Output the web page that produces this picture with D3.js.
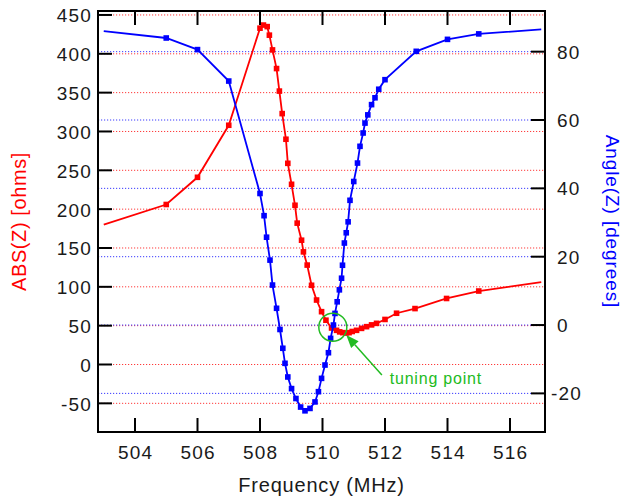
<!DOCTYPE html>
<html><head><meta charset="utf-8">
<script src="https://cdn.jsdelivr.net/npm/d3@7"></script>
<style>
html,body{margin:0;padding:0;background:#fff;}
svg{display:block;font-family:"Liberation Sans",Arial,sans-serif;}
</style></head>
<body>
<svg id="chart" width="626" height="499"></svg>
<script>
// ---- data ----
const freqAbs = [503, 505, 506, 507, 508.0, 508.11, 508.23, 508.3, 508.4, 508.53, 508.62, 508.71, 508.83, 508.89, 509.01, 509.12, 509.19, 509.33, 509.39, 509.51, 509.65, 509.81, 509.97, 510.11, 510.29, 510.45, 510.55, 510.65, 510.75, 510.85, 510.95, 511.09, 511.25, 511.41, 511.57, 511.73, 512.0, 512.37, 512.96, 513.97, 515.0, 517.0];
const absZ = [180, 206, 241, 308, 433, 437, 435, 424, 405, 381, 352, 323, 290, 259, 232, 205, 182, 160, 145, 128, 102, 83, 68, 57, 47, 44, 42, 41, 40.5, 41, 42.5, 44, 46.5, 48.7, 51, 53, 58, 66, 72, 85, 94.6, 106];
const freqAng = [503, 505, 506, 507, 508.0, 508.13, 508.21, 508.32, 508.4, 508.53, 508.64, 508.73, 508.8, 508.89, 509.01, 509.15, 509.3, 509.44, 509.6, 509.76, 509.87, 509.97, 510.08, 510.19, 510.26, 510.35, 510.4, 510.47, 510.54, 510.61, 510.64, 510.7, 510.76, 510.82, 510.88, 511.0, 511.12, 511.2, 511.3, 511.36, 511.45, 511.57, 511.68, 511.8, 512.0, 513.0, 514.0, 515.0, 517.0];
const angleZ = [86, 84, 80.6, 71.4, 38.5, 32, 25.7, 19, 11.7, 4.9, -1.3, -6.8, -11.2, -15.2, -18.6, -21.5, -24, -25.1, -24.4, -22.5, -19.5, -15.6, -11.7, -8.1, -3.9, 0, 3.4, 6.8, 10.3, 13.7, 17.5, 24, 27, 30.2, 36.5, 42, 47.4, 52.3, 56.2, 59.1, 61.5, 64.5, 66.5, 69, 71.8, 80.1, 83.6, 85.2, 86.5];
const xTicks = [504, 506, 508, 510, 512, 514, 516];
const leftTicks = [-50, 0, 50, 100, 150, 200, 250, 300, 350, 400, 450];
const rightTicks = [-20, 0, 20, 40, 60, 80];
const xTitle = "Frequency (MHz)";
const leftTitle = "ABS(Z) [ohms]";
const rightTitle = "Angle(Z) [degrees]";
const annotText = "tuning point";
const annotPoint = {f: 510.33, v: 48};      // circle centre (left axis units)
const annotArrow = {f0: 511.9, v0: -13.5, f1: 510.76, v1: 38};
const annotLabel = {f: 512.15, v: -25};

// ---- layout ----
const L = 98, R = 545, T = 11, B = 432;
const svg = d3.select("#chart");
const x = d3.scaleLinear().domain([502.816, 517.12]).range([L, R]);
const yL = d3.scaleLinear().domain([-86.9, 455.1]).range([B, T]);
const yR = d3.scaleLinear().domain([-31.3, 91.9]).range([B, T]);

const RED = "#ff0000", BLUE = "#0000ff", GREEN = "#22bb22";

// gridlines
svg.append("g").selectAll("line").data(leftTicks).join("line")
  .attr("x1", L).attr("x2", R).attr("y1", d => yL(d)).attr("y2", d => yL(d))
  .attr("stroke", "#ff3a3a").attr("stroke-width", 1).attr("stroke-dasharray", "1.2,1.8");
svg.append("g").selectAll("line").data(rightTicks).join("line")
  .attr("x1", L).attr("x2", R).attr("y1", d => yR(d)).attr("y2", d => yR(d))
  .attr("stroke", "#3a3aff").attr("stroke-width", 1).attr("stroke-dasharray", "1.2,1.8");

// series
const absData = freqAbs.map((f, i) => ({f, v: absZ[i]}));
const angData = freqAng.map((f, i) => ({f, v: angleZ[i]}));
function drawSeries(data, yS, color) {
  const g = svg.append("g");
  g.append("path").datum(data)
    .attr("d", d3.line().x(d => x(d.f)).y(d => yS(d.v)))
    .attr("fill", "none").attr("stroke", color).attr("stroke-width", 1.8);
  g.selectAll("rect").data(data.slice(1, -1)).join("rect")
    .attr("x", d => x(d.f) - 2.8).attr("y", d => yS(d.v) - 2.8)
    .attr("width", 5.6).attr("height", 5.6).attr("fill", color);
}
drawSeries(absData, yL, RED);
drawSeries(angData, yR, BLUE);

// frame
svg.append("rect").attr("x", L).attr("y", T).attr("width", R - L).attr("height", B - T)
  .attr("fill", "none").attr("stroke", "#000").attr("stroke-width", 2);

// axes (inward ticks)
const tickLen = 14;
const fontTick = {size: "19px", ls: "1.2px", fill: "#1a1a1a"};
const gx = svg.append("g");
gx.selectAll("line.b").data(xTicks).join("line").attr("class", "b")
  .attr("x1", d => x(d)).attr("x2", d => x(d)).attr("y1", B).attr("y2", B - tickLen)
  .attr("stroke", "#000").attr("stroke-width", 2);
gx.selectAll("line.t").data(xTicks).join("line").attr("class", "t")
  .attr("x1", d => x(d)).attr("x2", d => x(d)).attr("y1", T).attr("y2", T + tickLen)
  .attr("stroke", "#000").attr("stroke-width", 2);
gx.selectAll("text").data(xTicks).join("text")
  .attr("x", d => x(d) + 0.6).attr("y", 458.5).attr("text-anchor", "middle")
  .attr("font-size", fontTick.size).attr("letter-spacing", fontTick.ls).attr("fill", fontTick.fill)
  .text(d => d);

const gl = svg.append("g");
gl.selectAll("line").data(leftTicks).join("line")
  .attr("x1", L).attr("x2", L + tickLen).attr("y1", d => yL(d)).attr("y2", d => yL(d))
  .attr("stroke", "#000").attr("stroke-width", 2);
gl.selectAll("text").data(leftTicks).join("text")
  .attr("x", 92).attr("y", d => yL(d) + 7.5).attr("text-anchor", "end")
  .attr("font-size", fontTick.size).attr("letter-spacing", fontTick.ls).attr("fill", fontTick.fill)
  .text(d => d);

const gr = svg.append("g");
gr.selectAll("line").data(rightTicks).join("line")
  .attr("x1", R).attr("x2", R - tickLen).attr("y1", d => yR(d)).attr("y2", d => yR(d))
  .attr("stroke", "#000").attr("stroke-width", 2);
gr.selectAll("text").data(rightTicks).join("text")
  .attr("x", d => d < 0 ? 551 : 557).attr("y", d => yR(d) + 7)
  .attr("text-anchor", "start")
  .attr("font-size", fontTick.size).attr("letter-spacing", fontTick.ls).attr("fill", fontTick.fill)
  .text(d => d);

// titles
svg.append("text").attr("x", (L + R) / 2).attr("y", 491.5).attr("text-anchor", "middle")
  .attr("font-size", "20px").attr("letter-spacing", "0.8px").attr("fill", "#1a1a1a").text(xTitle);
svg.append("text").attr("transform", `translate(26,${(T + B) / 2}) rotate(-90)`)
  .attr("text-anchor", "middle").attr("font-size", "20px").attr("letter-spacing", "0.6px")
  .attr("fill", RED).text(leftTitle);
svg.append("text").attr("transform", `translate(606,${(T + B) / 2}) rotate(90)`)
  .attr("text-anchor", "middle").attr("font-size", "19px").attr("letter-spacing", "0.9px")
  .attr("fill", BLUE).text(rightTitle);

// annotation
const ga = svg.append("g");
ga.append("circle").attr("cx", x(annotPoint.f)).attr("cy", yL(annotPoint.v)).attr("r", 14)
  .attr("fill", "none").attr("stroke", GREEN).attr("stroke-width", 1.5);
const ax0 = x(annotArrow.f0), ay0 = yL(annotArrow.v0), ax1 = x(annotArrow.f1), ay1 = yL(annotArrow.v1);
const ang = Math.atan2(ay1 - ay0, ax1 - ax0);
const hl = 13, hw = 5;
const bx = ax1 - hl * Math.cos(ang), by = ay1 - hl * Math.sin(ang);
ga.append("line").attr("x1", ax0).attr("y1", ay0).attr("x2", bx).attr("y2", by)
  .attr("stroke", GREEN).attr("stroke-width", 1.5);
ga.append("path").attr("d", `M${ax1},${ay1} L${bx + hw * Math.sin(ang)},${by - hw * Math.cos(ang)} L${bx - hw * Math.sin(ang)},${by + hw * Math.cos(ang)} Z`)
  .attr("fill", GREEN);
ga.append("text").attr("x", x(annotLabel.f)).attr("y", yL(annotLabel.v))
  .attr("font-size", "16px").attr("letter-spacing", "0.8px").attr("fill", GREEN).text(annotText);
</script>
</body></html>
